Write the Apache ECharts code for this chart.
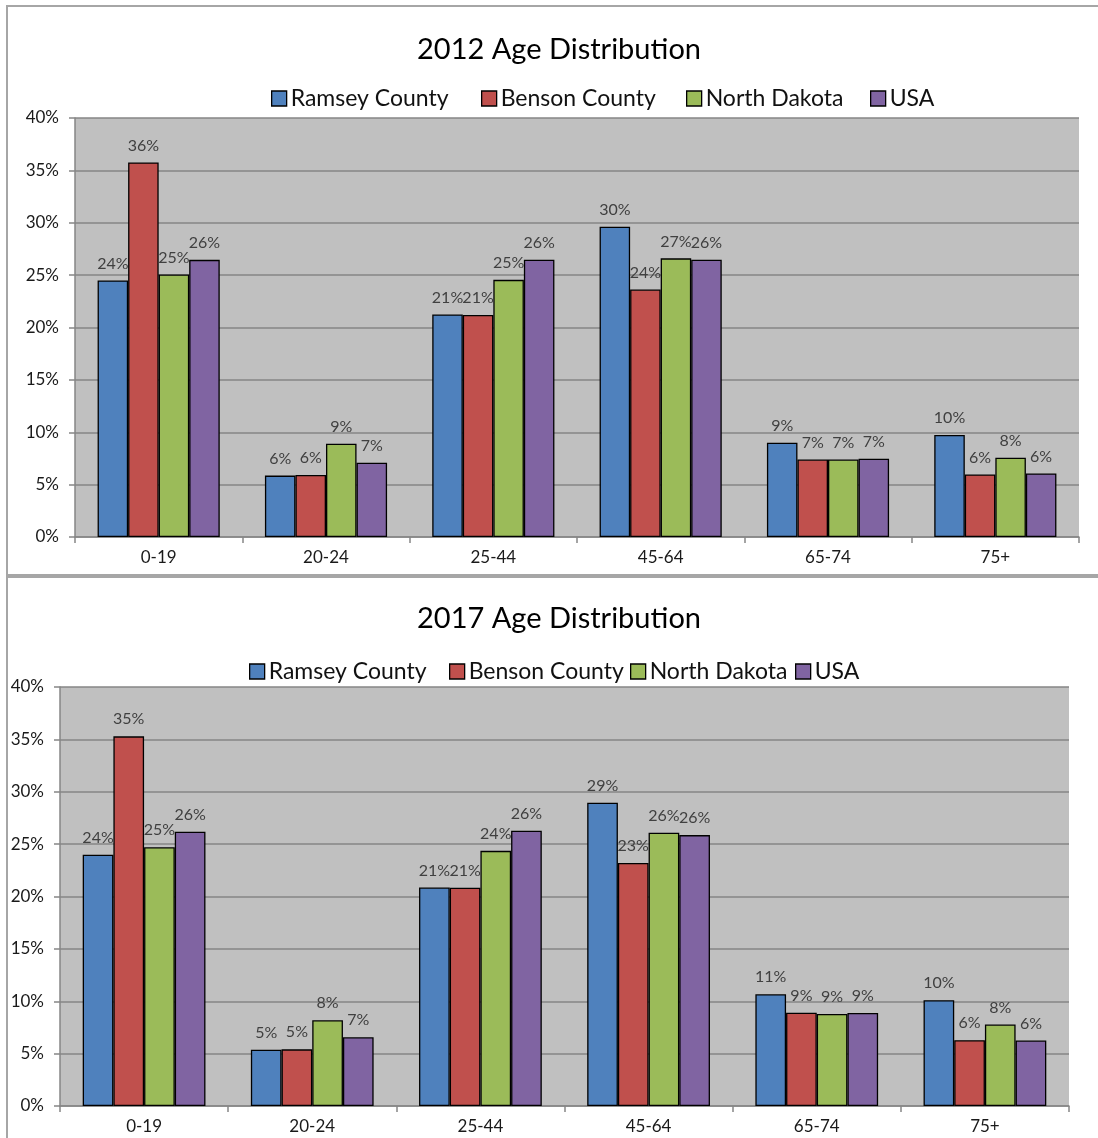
<!DOCTYPE html>
<html>
<head>
<meta charset="utf-8">
<script src="https://cdn.jsdelivr.net/npm/echarts@6/dist/echarts.min.js"></script>
<style>
html,body{margin:0;padding:0;background:#fff;}
#chart{width:1098px;height:1138px;}
</style>
</head>
<body>
<div id="chart"></div>
<script>
const categories = ['0-19', '20-24', '25-44', '45-64', '65-74', '75+'];
const seriesNames = ['Ramsey County', 'Benson County', 'North Dakota', 'USA'];
const titles = ['2012 Age Distribution', '2017 Age Distribution'];
const yTicks = [0, 5, 10, 15, 20, 25, 30, 35, 40];

const ramsey2012 = [24.49, 5.86, 21.25, 29.62, 9.00, 9.74];
const benson2012 = [35.76, 5.93, 21.19, 23.63, 7.40, 5.97];
const nd2012     = [25.06, 8.91, 24.55, 26.60, 7.40, 7.57];
const usa2012    = [26.46, 7.10, 26.47, 26.47, 7.48, 6.07];

const ramsey2017 = [23.98, 5.38, 20.86, 28.95, 10.67, 10.10];
const benson2017 = [35.29, 5.41, 20.83, 23.20, 8.91, 6.28];
const nd2017     = [24.70, 8.18, 24.36, 26.09, 8.79, 7.78];
const usa2017    = [26.18, 6.56, 26.27, 25.86, 8.88, 6.25];

const colors = ['#4F81BD', '#C0504D', '#9BBB59', '#8064A2'];
const FONT = 'Lato';

const chart = echarts.init(document.getElementById('chart'), null, {renderer: 'canvas'});

function makeGrid(left, right, top, height) {
  return {left, right, top, height, show: true, backgroundColor: '#c0c0c0', borderWidth: 0, containLabel: false};
}
function makeX(gi) {
  return {
    type: 'category', gridIndex: gi, data: categories,
    axisLine: {show: true, lineStyle: {color: '#868686', width: 1.5}},
    axisTick: {show: true, alignWithLabel: false, length: 6, lineStyle: {color: '#868686', width: 1.5}},
    axisLabel: {color: '#1a1a1a', fontSize: 17, fontFamily: FONT, margin: 12}
  };
}
function makeY(gi) {
  return {
    type: 'value', gridIndex: gi, min: yTicks[0], max: yTicks[yTicks.length - 1], interval: 5,
    axisLine: {show: true, lineStyle: {color: '#868686', width: 1.5}},
    axisTick: {show: true, length: 6, lineStyle: {color: '#868686', width: 1.5}},
    splitLine: {show: true, lineStyle: {color: '#868686', width: 1.5}},
    axisLabel: {color: '#1a1a1a', fontSize: 17, fontFamily: FONT, margin: 16, formatter: v => v + '%'}
  };
}
function makeSeries(name, data, ci, gi) {
  return {
    name, type: 'bar', data, xAxisIndex: gi, yAxisIndex: gi,
    barGap: '0%', barCategoryGap: '27%',
    itemStyle: {color: colors[ci], borderColor: '#000', borderWidth: 1.3},
    label: {show: true, position: 'top', distance: 9, color: '#404040', fontSize: 16, fontFamily: FONT,
      formatter: p => Math.round(p.value) + '%'}
  };
}

const data2012 = [ramsey2012, benson2012, nd2012, usa2012];
const data2017 = [ramsey2017, benson2017, nd2017, usa2017];

const series = [];
seriesNames.forEach((n, i) => series.push(makeSeries(n, data2012[i], i, 0)));
seriesNames.forEach((n, i) => series.push(makeSeries(n, data2017[i], i, 1)));

function legendItem(name, left, top) {
  return {
    data: [name], left, top, icon: 'rect', itemWidth: 15, itemHeight: 15, padding: 0,
    itemStyle: {borderColor: '#000', borderWidth: 1.3},
    textStyle: {fontSize: 23, fontFamily: FONT, color: '#111', padding: [0, 0, 0, -1]},
    selectedMode: false
  };
}
const legendLeftTop = [271, 481, 686, 870];
const legendLeftBottom = [249, 449, 630, 795];
const legends = [];
seriesNames.forEach((n, i) => legends.push(legendItem(n, legendLeftTop[i], 87)));
seriesNames.forEach((n, i) => legends.push(legendItem(n, legendLeftBottom[i], 660)));

chart.setOption({
  backgroundColor: '#fff',
  animation: false,
  color: colors,
  title: [
    {text: titles[0], left: 554, textAlign: 'center', top: 30, textStyle: {fontSize: 29, fontWeight: 'normal', fontFamily: FONT, color: '#000'}},
    {text: titles[1], left: 554, textAlign: 'center', top: 599, textStyle: {fontSize: 29, fontWeight: 'normal', fontFamily: FONT, color: '#000'}}
  ],
  legend: legends,
  grid: [makeGrid(75, 19, 118, 419), makeGrid(60, 29, 687, 419)],
  xAxis: [makeX(0), makeX(1)],
  yAxis: [makeY(0), makeY(1)],
  series,
  graphic: [
    {type: 'rect', silent: true, z: 100, shape: {x: 7, y: 6, width: 1100, height: 569},
      style: {fill: 'none', stroke: '#a6a6a6', lineWidth: 2}},
    {type: 'rect', silent: true, z: 100, shape: {x: 7, y: 577, width: 1100, height: 600},
      style: {fill: 'none', stroke: '#a6a6a6', lineWidth: 2}}
  ]
});
</script>
</body>
</html>
